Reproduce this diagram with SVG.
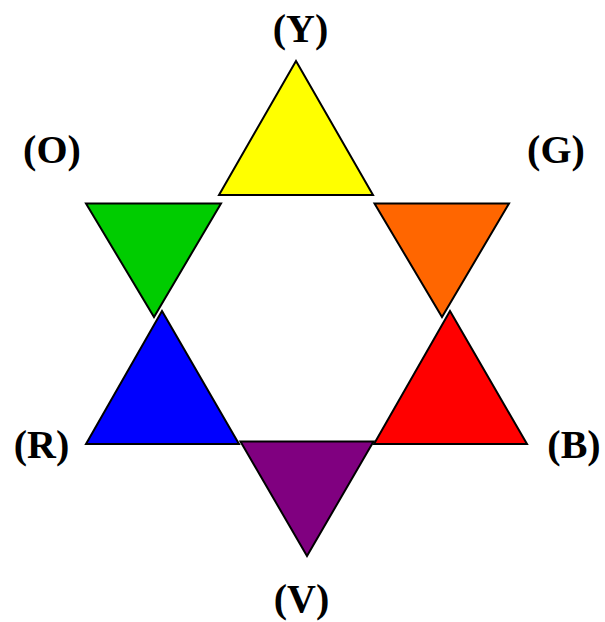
<svg xmlns="http://www.w3.org/2000/svg" width="605" height="622" viewBox="0 0 605 622">
<style>
.tri{stroke:#000;stroke-width:2;stroke-linejoin:miter}
.lbl{font-family:"Liberation Serif","Times New Roman",serif;font-weight:bold;font-size:40px;fill:#000;text-anchor:middle}
</style>
<rect width="605" height="622" fill="#fff"/>
<g id="yellow"><polygon class="tri" fill="#ffff00" points="296,61 373,195 219,195"/></g>
<g id="green"><polygon class="tri" fill="#00cc00" points="86,203.5 221,203.5 154,317"/></g>
<g id="orange"><polygon class="tri" fill="#ff6600" points="374.5,203.5 509,203.5 442,317"/></g>
<g id="blue"><polygon class="tri" fill="#0000ff" points="162,311 239,444 86,444"/></g>
<g id="red"><polygon class="tri" fill="#ff0000" points="450,311 527,444 374,444"/></g>
<g id="purple"><polygon class="tri" fill="#800080" points="240.5,441.5 373.5,441.5 307,556"/></g>
<g id="labels">
<text class="lbl" x="300.5" y="42">(Y)</text>
<text class="lbl" x="52" y="163">(O)</text>
<text class="lbl" x="556" y="163">(G)</text>
<text class="lbl" x="41.5" y="458">(R)</text>
<text class="lbl" x="574" y="458">(B)</text>
<text class="lbl" x="301.5" y="612">(V)</text>
</g>
</svg>
